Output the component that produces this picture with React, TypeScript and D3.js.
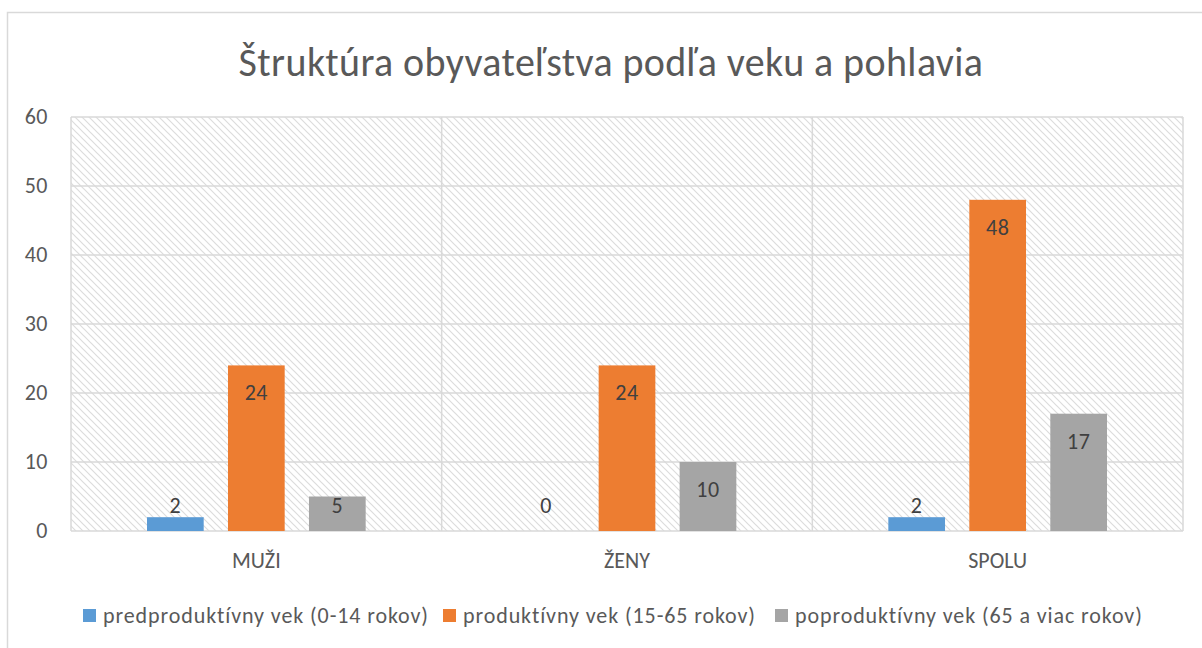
import React from "react";
import * as d3 from "d3";

const categories = ["MUŽI", "ŽENY", "SPOLU"];
const seriesNames = [
  "predproduktívny vek (0-14 rokov)",
  "produktívny vek (15-65 rokov)",
  "poproduktívny vek (65 a viac rokov)",
];
const predproduktivny = [2, 0, 2];
const produktivny = [24, 24, 48];
const poproduktivny = [5, 10, 17];
const yTicks = [0, 10, 20, 30, 40, 50, 60];
const colors = ["#5b9bd5", "#ed7d31", "#a5a5a5"];
const title = "Štruktúra obyvateľstva podľa veku a pohlavia";

export default function App() {
  const W = 1202, H = 648;
  const left = 71, right = 1183, top = 117, bottom = 531;
  const font = "Carlito, 'Open Sans', sans-serif";
  const text = "#595959";
  const grid = "#d9d9d9";
  const series = [predproduktivny, produktivny, poproduktivny];

  const x0 = d3.scaleBand<string>().domain(categories).range([left, right]).paddingInner(0).paddingOuter(0);
  const x1 = d3.scaleBand<number>().domain([0, 1, 2]).range([76, x0.bandwidth() - 76]).paddingInner(0.3).paddingOuter(0);
  const y = d3.scaleLinear().domain([0, 60]).range([bottom, top]);

  const legendX = [83, 443, 775];

  return (
    <svg width={W} height={H} style={{ position: "absolute", left: 0, top: 0, background: "#fff" }}>
      <defs>
        <pattern id="hatch" width="7" height="7" patternUnits="userSpaceOnUse">
          <path d="M-1,-1 L8,8 M-1,6 L1,8 M6,-1 L8,1" stroke="#dcdcdc" strokeWidth="1.2" />
        </pattern>
      </defs>
      <rect x={7.5} y={12.5} width={W} height={H} fill="#fff" stroke={grid} strokeWidth={1.5} />
      <text x={611} y={76} textAnchor="middle" fontFamily={font} fontSize={40} letterSpacing={0.4} fill={text}>{title}</text>
      <rect x={left} y={top} width={right - left} height={bottom - top} fill="url(#hatch)" />
      {yTicks.map((t) => (
        <g key={t}>
          <line x1={left} x2={right} y1={y(t)} y2={y(t)} stroke={grid} strokeWidth={1.5} />
          <text x={48} y={y(t) + 7} textAnchor="end" fontFamily={font} fontSize={22} letterSpacing={0.5} fill={text}>{t}</text>
        </g>
      ))}
      {[left, ...categories.map((c) => (x0(c) as number) + x0.bandwidth())].map((v, i) => (
        <line key={i} x1={v} x2={v} y1={top} y2={bottom} stroke={grid} strokeWidth={1.5} />
      ))}
      {categories.map((c, ci) => (
        <g key={c}>
          {series.map((s, si) => {
            const bx = (x0(c) as number) + (x1(si) as number);
            const by = y(s[ci]);
            const ly = Math.min(by + 35, 513);
            return (
              <g key={si}>
                <rect x={bx} y={by} width={x1.bandwidth()} height={bottom - by} fill={colors[si]} />
                <text x={bx + x1.bandwidth() / 2} y={ly} textAnchor="middle" fontFamily={font} fontSize={22} letterSpacing={0.5} fill="#404040">{s[ci]}</text>
              </g>
            );
          })}
          <text x={(x0(c) as number) + x0.bandwidth() / 2} y={568} textAnchor="middle" fontFamily={font} fontSize={22} fill={text}>{c}</text>
        </g>
      ))}
      {seriesNames.map((n, i) => (
        <g key={n}>
          <rect x={legendX[i]} y={609} width={13} height={13} fill={colors[i]} />
          <text x={legendX[i] + 20} y={623} fontFamily={font} fontSize={22} letterSpacing={0.9} fill={text}>{n}</text>
        </g>
      ))}
    </svg>
  );
}
